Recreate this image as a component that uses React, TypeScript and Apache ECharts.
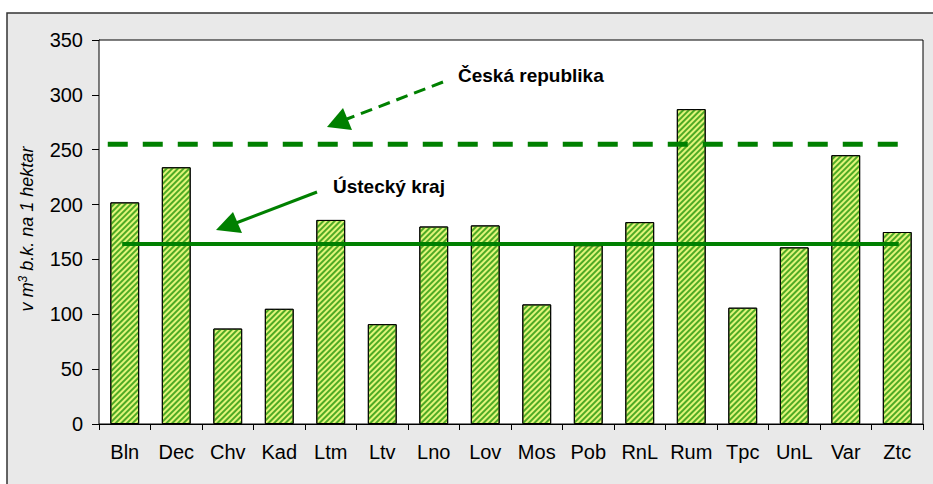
import React, { useEffect, useRef } from "react";
import * as echarts from "echarts";

const categories = ["Bln", "Dec", "Chv", "Kad", "Ltm", "Ltv", "Lno", "Lov", "Mos", "Pob", "RnL", "Rum", "Tpc", "UnL", "Var", "Ztc"];
const values = [202, 234, 87, 105, 186, 91, 180, 181, 109, 163, 184, 287, 106, 161, 245, 175];
const krajValue = 164;
const crValue = 255;
// line extents in category units (0..16)
const krajSpan = [0.45, 15.53];
const crSpan = [0.17, 15.76];
const yTicks = { min: 0, max: 350, interval: 50 };

const FONT = "Arial, 'Liberation Sans', sans-serif";

export default function App() {
  const ref = useRef<HTMLDivElement>(null);
  useEffect(() => {
    if (!ref.current) return;
    const chart = echarts.init(ref.current, undefined, { renderer: "svg" });
    chart.setOption({
      animation: false,
      backgroundColor: "#ffffff",
      grid: {
        left: 99,
        right: 10,
        top: 40,
        bottom: 60,
        show: true,
        backgroundColor: "#ffffff",
        borderColor: "#000000",
        borderWidth: 1,
        z: 1,
      },
      xAxis: [
        {
          type: "category",
          data: categories,
          axisLine: { lineStyle: { color: "#000", width: 1 } },
          axisTick: { show: true, alignWithLabel: false, interval: 0, length: 6, lineStyle: { color: "#000" } },
          axisLabel: { color: "#000", fontSize: 20, fontFamily: FONT, margin: 18, interval: 0 },
          splitLine: { show: false },
        },
        {
          type: "value",
          min: 0,
          max: 16,
          show: false,
        },
      ],
      yAxis: {
        type: "value",
        min: yTicks.min,
        max: yTicks.max,
        interval: yTicks.interval,
        axisLine: { show: true, lineStyle: { color: "#000", width: 1 } },
        axisTick: { show: true, length: 7, lineStyle: { color: "#000" } },
        axisLabel: { color: "#000", fontSize: 20, fontFamily: FONT, margin: 16 },
        splitLine: { show: true, lineStyle: { color: "#9a9a9a", type: [6, 5], width: 1 } },
      },
      series: [
        {
          type: "bar",
          data: values,
          barWidth: "56%",
          itemStyle: {
            color: "#e2f57a",
            borderColor: "#000",
            borderWidth: 1,
            decal: {
              symbol: "rect",
              symbolSize: 1,
              color: "#4eaa24",
              dashArrayX: [1, 0],
              dashArrayY: [1.5, 1.5],
              rotation: -Math.PI / 4,
            },
          },
          z: 2,
        },
        {
          type: "line",
          xAxisIndex: 1,
          data: [[krajSpan[0], krajValue], [krajSpan[1], krajValue]],
          symbol: "none",
          lineStyle: { color: "#008000", width: 4, cap: "butt" },
          z: 3,
        },
        {
          type: "line",
          xAxisIndex: 1,
          data: [[crSpan[0], crValue], [crSpan[1], crValue]],
          symbol: "none",
          lineStyle: { color: "#008000", width: 5, type: [20, 15], cap: "butt" },
          z: 3,
        },
      ],
      graphic: [
        {
          type: "rect",
          z: -10,
          silent: true,
          shape: { x: 7, y: 13, width: 940, height: 490 },
          style: { fill: "#e9e9e9", stroke: "#333", lineWidth: 1.5 },
        },
        {
          type: "text",
          z: 10,
          x: 27,
          y: 229,
          rotation: Math.PI / 2,
          style: {
            text: "{a|v m}{s|3}{a| b.k. na 1 hektar}",
            rich: {
              a: { font: `italic 18px ${FONT}`, fill: "#000" },
              s: { font: `italic 12px ${FONT}`, fill: "#000", verticalAlign: "top", padding: [0, 0, 8, 0] },
            },
            font: `italic 18px ${FONT}`,
            fill: "#000",
            textAlign: "center",
            textVerticalAlign: "middle",
          },
        },
        {
          type: "text",
          z: 10,
          x: 458,
          y: 75,
          style: {
            text: "Česká republika",
            font: `bold 19px ${FONT}`,
            fill: "#000",
            textAlign: "left",
            textVerticalAlign: "middle",
          },
        },
        {
          type: "text",
          z: 10,
          x: 333,
          y: 186,
          style: {
            text: "Ústecký kraj",
            font: `bold 19px ${FONT}`,
            fill: "#000",
            textAlign: "left",
            textVerticalAlign: "middle",
          },
        },
        {
          type: "line",
          z: 10,
          shape: { x1: 443, y1: 82, x2: 347, y2: 119 },
          style: { stroke: "#008000", lineWidth: 3, lineDash: [12, 7] },
        },
        {
          type: "polygon",
          z: 10,
          shape: { points: [[327, 127], [343, 108], [352, 130]] },
          style: { fill: "#008000" },
        },
        {
          type: "line",
          z: 10,
          shape: { x1: 317, y1: 192, x2: 236, y2: 223 },
          style: { stroke: "#008000", lineWidth: 3 },
        },
        {
          type: "polygon",
          z: 10,
          shape: { points: [[216, 230], [233, 212], [242, 233]] },
          style: { fill: "#008000" },
        },
      ],
    });
    return () => chart.dispose();
  }, []);
  return (
    <div
      ref={ref}
      style={{ position: "absolute", left: 0, top: 0, width: 933, height: 484 }}
    />
  );
}
